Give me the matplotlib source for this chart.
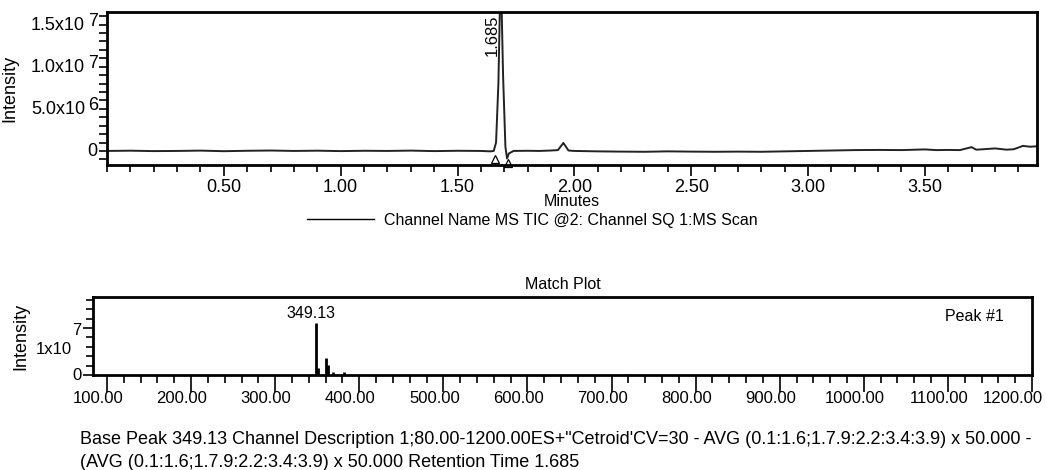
import numpy as np
import matplotlib
matplotlib.use('Agg')
import matplotlib.pyplot as plt
from matplotlib.transforms import offset_copy
from matplotlib.ticker import MultipleLocator

plt.rcParams['font.family'] = ['Liberation Sans', 'DejaVu Sans']

# TIC chromatogram (minutes, intensity)
tic_time = [0.00, 0.10, 0.20, 0.30, 0.40, 0.50, 0.60, 0.70, 0.80, 0.90, 1.00,
            1.10, 1.20, 1.30, 1.40, 1.50, 1.60, 1.640, 1.655, 1.665, 1.675,
            1.685, 1.695, 1.705, 1.712, 1.720, 1.740, 1.80, 1.85, 1.90, 1.93,
            1.953, 1.975, 2.00, 2.10, 2.20, 2.30, 2.40, 2.50, 2.60, 2.70,
            2.80, 2.90, 3.00, 3.10, 3.20, 3.30, 3.40, 3.50, 3.55, 3.60, 3.65,
            3.70, 3.72, 3.75, 3.80, 3.85, 3.88, 3.92, 3.95, 3.98]
tic_int = [0.00e6, 0.03e6, -0.02e6, 0.00e6, 0.04e6, -0.03e6, 0.02e6, 0.05e6,
           0.00e6, 0.03e6, -0.02e6, 0.02e6, 0.00e6, 0.04e6, -0.02e6, 0.02e6,
           0.00e6, -0.05e6, 0.00e6, 1.0e6, 8.0e6,
           22.0e6, 9.0e6, 0.5e6, -0.9e6, -0.3e6, 0.00e6, 0.02e6, 0.00e6, 0.05e6, 0.10e6,
           0.95e6, 0.05e6, 0.00e6, -0.05e6, -0.08e6, -0.10e6, -0.05e6, -0.08e6, -0.10e6, -0.08e6,
           -0.10e6, -0.05e6, 0.00e6, 0.05e6, 0.10e6, 0.12e6, 0.10e6, 0.18e6, 0.10e6, 0.12e6, 0.10e6,
           0.45e6, 0.15e6, 0.20e6, 0.30e6, 0.15e6, 0.20e6, 0.60e6, 0.50e6, 0.55e6]
peak_rt = 1.685
peak_marks_t = [1.662, 1.714]
peak_marks_y = [-0.95e6, -1.4e6]

top_ticks = [0.0, 5.0e6, 1.0e7, 1.5e7]
top_base = ['0', '5.0x10', '1.0x10', '1.5x10']
top_exp = ['', '6', '7', '7']
top_xticks = [0.5, 1.0, 1.5, 2.0, 2.5, 3.0, 3.5]

# mass spectrum at peak
mz = [349.13, 351.4, 360.9, 363.3, 369.3, 382.4, 718.0]
ms_int = [1.1e7, 1.5e6, 3.6e6, 2.1e6, 0.6e6, 0.6e6, 0.3e6]
ms_xticks = [100, 200, 300, 400, 500, 600, 700, 800, 900, 1000, 1100, 1200]

footer = ("Base Peak 349.13 Channel Description 1;80.00-1200.00ES+\"Cetroid'CV=30 - "
          "AVG (0.1:1.6;1.7.9:2.2:3.4:3.9) x 50.000 -\n"
          "(AVG (0.1:1.6;1.7.9:2.2:3.4:3.9) x 50.000 Retention Time 1.685")

W, H = 1047, 470
fig = plt.figure(figsize=(W / 100, H / 100), dpi=100)

# ---------- top chromatogram ----------
ax = fig.add_axes([107 / W, 1 - 165 / H, 930 / W, 153 / H])
ax.plot(tic_time, tic_int, color='#222222', lw=1.4)
ax.plot(peak_marks_t, peak_marks_y, ls='none', marker='^', ms=6,
        mfc='white', mec='black', mew=0.9, clip_on=False)
ax.set_xlim(0.0, 3.98)
ax.set_ylim(-1.67e6, 1.65e7)
ax.set_xticks(top_xticks)
ax.set_xticklabels(['%.2f' % t for t in top_xticks], fontsize=13)
ax.xaxis.set_minor_locator(MultipleLocator(0.1))
ax.set_yticks(top_ticks)
ax.set_yticklabels([])
ax.yaxis.set_minor_locator(MultipleLocator(1e6))
ax.tick_params(axis='x', which='major', length=8, width=1.2, pad=2)
ax.tick_params(axis='x', which='minor', length=5, width=1.2)
ax.tick_params(axis='y', which='both', length=6, width=1.2)
for s in ax.spines.values():
    s.set_linewidth(2)

ytr = ax.get_yaxis_transform()
for v, b, e in zip(top_ticks, top_base, top_exp):
    if e:
        ax.text(0, v, b, transform=offset_copy(ytr, fig, x=-22, y=-1, units='dots'),
                ha='right', va='center', fontsize=13)
        ax.text(0, v, e, transform=offset_copy(ytr, fig, x=-9, y=3, units='dots'),
                ha='right', va='center', fontsize=13)
    else:
        ax.text(0, v, b, transform=offset_copy(ytr, fig, x=-10, y=-1, units='dots'),
                ha='right', va='center', fontsize=13)
ax.set_ylabel('Intensity', fontsize=13, labelpad=54)
ax.set_xlabel('Minutes', fontsize=11.5, labelpad=-1)
ax.annotate('%.3f' % peak_rt, xy=(peak_rt, 1.65e7), xytext=(-1, -2),
            textcoords='offset points', rotation=90, ha='right', va='top', fontsize=12)

handle, = ax.plot([], [], color='black', lw=1)
fig.legend([handle], ['Channel Name MS TIC @2: Channel SQ 1:MS Scan'],
           loc='center left', bbox_to_anchor=(307 / W, 1 - 220 / H),
           frameon=False, borderpad=0, borderaxespad=0, handlelength=4.2,
           handletextpad=0.6, fontsize=11.5)

# ---------- bottom match plot ----------
bx = fig.add_axes([93 / W, 1 - 375 / H, 939 / W, 78 / H])
bx.vlines(mz, 0, ms_int, color='black', lw=2)
bx.set_xlim(83.4, 1200)
bx.set_ylim(0, 1.66e7)
bx.set_xticks(ms_xticks)
bx.set_xticklabels([])
# the instrument software draws its labels a little left of the ticks
xtr = bx.get_xaxis_transform()
for i, m in enumerate(ms_xticks):
    shift = -19 if i == len(ms_xticks) - 1 else -9
    bx.text(m, 0, '%.2f' % m, transform=offset_copy(xtr, fig, x=shift, y=-16, units='dots'),
            ha='center', va='top', fontsize=12)
bx.xaxis.set_minor_locator(MultipleLocator(20))
bx.set_yticks([0, 1e7])
bx.set_yticklabels([])
bx.yaxis.set_minor_locator(MultipleLocator(2e6))
bx.tick_params(axis='x', which='major', length=12, width=1.2, pad=3)
bx.tick_params(axis='x', which='minor', length=6, width=1.2)
bx.tick_params(axis='y', which='major', length=7, width=1.2)
bx.tick_params(axis='y', which='minor', length=5, width=1.2)
for s in bx.spines.values():
    s.set_linewidth(2)
btr = bx.get_yaxis_transform()
bx.text(0, 0, '0', transform=offset_copy(btr, fig, x=-11, y=-1, units='dots'),
        ha='right', va='center', fontsize=12)
bx.text(0, 1e7, '7', transform=offset_copy(btr, fig, x=-12, y=-2, units='dots'),
        ha='right', va='center', fontsize=12)
bx.text(0, 1e7, '1x10', transform=offset_copy(btr, fig, x=-21, y=-21, units='dots'),
        ha='right', va='center', fontsize=12)
bx.set_ylabel('Intensity', fontsize=13, labelpad=35)
bx.set_title('Match Plot', fontsize=11.5, pad=6)
bx.annotate('%.2f' % mz[0], xy=(mz[0], ms_int[0]), xytext=(-4, 2),
            textcoords='offset points', ha='center', va='bottom', fontsize=11.5)
bx.text(0.970, 0.756, 'Peak #1', transform=bx.transAxes, ha='right', va='center', fontsize=11.5)

fig.text(80 / W, 1 - 451 / H, footer, ha='left', va='center', fontsize=13, linespacing=1.4)

fig.savefig('out.png', dpi=100)
